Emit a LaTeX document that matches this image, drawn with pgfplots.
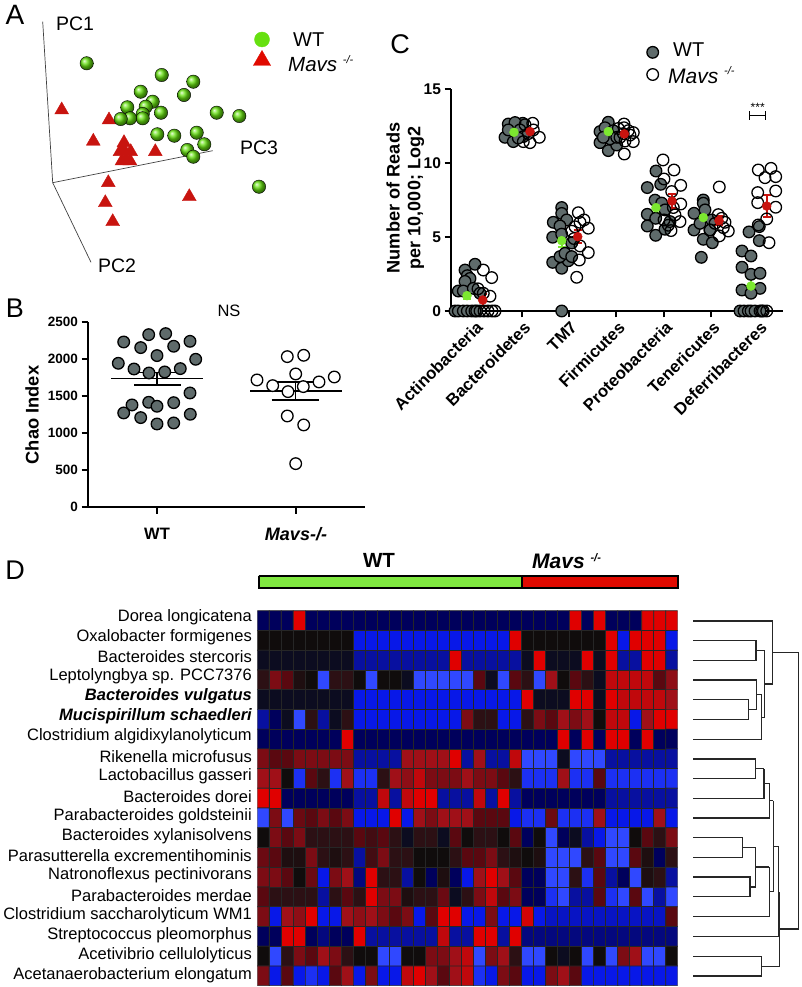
\documentclass[border=0pt]{standalone}
\usepackage{fontspec}
\setmainfont{Liberation Sans}
\usepackage{pgfplots}
\pgfplotsset{compat=1.18}
\definecolor{gr}{HTML}{5F6B6B}
\definecolor{grn}{HTML}{7CE830}
\definecolor{rd}{HTML}{C8140F}
\definecolor{barg}{HTML}{80E840}
\definecolor{barr}{HTML}{E00A00}
\definecolor{ballg}{HTML}{66E010}
\newcommand{\fs}[1]{\fontsize{#1}{#1}\selectfont}
\pgfplotsset{
  base/.style={scale only axis, clip=false},
  chart/.style={base, axis lines=left, axis line style={-, line width=2.4pt, black},
    tick align=outside, major tick length=6.5pt, tick style={line width=2pt, black},
    /pgf/number format/assume math mode=true, /pgf/number format/1000 sep={}},
  wtc/.style={only marks, mark=*, mark size=5.8pt, mark options={fill=gr, draw=black, line width=1.3pt}},
  koc/.style={only marks, mark=*, mark size=5.8pt, mark options={fill=white, draw=black, line width=1.3pt}},
  koo/.style={only marks, mark=o, mark size=5.8pt, mark options={draw=black, line width=1.3pt}},
  dn/.style={color=black!85, line width=1.3pt, line join=miter},
  ml/.style={black, line width=1.3pt},
}
\begin{document}
\begin{tikzpicture}
\path[use as bounding box] (0,0) rectangle (802pt,987pt);
% master axis in image coordinates
\begin{axis}[base, at={(0,0)}, anchor=south west, width=802pt, height=987pt, xmin=0, xmax=802, ymin=0, ymax=987, y dir=reverse, hide axis,
  nodes={inner sep=0pt}]
\addplot[black!75, line width=.7pt] coordinates {(42.7,21.7)(52.7,182.7)(212.7,150.7)};
\addplot[black!75, line width=.7pt] coordinates {(52.7,182.7)(91,262.3)};
\addplot[only marks, mark=triangle*, mark size=8pt, mark options={fill=rd, draw=rd}] coordinates {
(61.7,110)(109,120)(93.3,141.3)(124,142.7)(120,151.7)(130.7,151.7)(126,160)(155.3,151.7)(108.3,182.7)(105.3,202.7)(112.7,221.7)(189.3,196.7)(124,150)(122,161)(130,161)};
\addplot[only marks, mark=ball, mark size=6.7pt, mark options={ball color=ballg}] coordinates {
(86.7,63.3)(161.7,75)(193.3,81.7)(184,95)(140.7,91.7)(152.7,101.7)(145.7,106.7)(127.3,107.3)(161,112.7)(142.7,114)(142.7,118.3)(130,118.3)(120.7,119)(216.7,112.7)(239.3,116)(157.3,134.3)(174.3,135.7)(196.7,132.7)(204.3,144.3)(187.3,150)(193.3,156.7)(259,186.7)};
\addplot[only marks, mark=*, mark size=7.5pt, mark options={fill=ballg, draw=ballg}] coordinates {(262,39.5)};
\addplot[only marks, mark=triangle*, mark size=10pt, mark options={fill=barr, draw=barr}] coordinates {(262,60.5)};
% bar over the heatmap
\addplot[fill=barg, draw=black, line width=2pt] coordinates {(258.5,575.7)(521.5,575.7)(521.5,588)(258.5,588)(258.5,575.7)};
\addplot[fill=barr, draw=black, line width=2pt] coordinates {(521.5,575.7)(677.5,575.7)(677.5,588)(521.5,588)(521.5,575.7)};
% dendrogram
\addplot[dn] coordinates {(693,640.7)(756,640.7)(756,660.3)(693,660.3)};
\addplot[dn] coordinates {(756,650.7)(764.7,650.7)};
\addplot[dn] coordinates {(693,699.7)(748.3,699.7)(748.3,719.3)(693,719.3)};
\addplot[dn] coordinates {(748.3,709.3)(756.7,709.3)};
\addplot[dn] coordinates {(693,680)(756.7,680)(756.7,709.3)};
\addplot[dn] coordinates {(756.7,694.7)(761.7,694.7)};
\addplot[dn] coordinates {(693,739.3)(761.7,739.3)(761.7,694.7)};
\addplot[dn] coordinates {(761.7,717.3)(764.7,717.3)};
\addplot[dn] coordinates {(764.7,650.7)(764.7,717.3)};
\addplot[dn] coordinates {(764.7,684)(772.7,684)};
\addplot[dn] coordinates {(693,621)(772.7,621)(772.7,684)};
\addplot[dn] coordinates {(772.7,652.3)(798.7,652.3)(798.7,929)(779.5,929)};
\addplot[dn] coordinates {(693,759)(755.3,759)(755.3,778.7)(693,778.7)};
\addplot[dn] coordinates {(755.3,768.7)(764,768.7)};
\addplot[dn] coordinates {(693,798.3)(764,798.3)(764,768.7)};
\addplot[dn] coordinates {(764,783.3)(769.3,783.3)};
\addplot[dn] coordinates {(693,818)(769.3,818)(769.3,783.3)};
\addplot[dn] coordinates {(769.3,800.7)(773.3,800.7)};
\addplot[dn] coordinates {(693,837.7)(742.7,837.7)(742.7,857.3)(693,857.3)};
\addplot[dn] coordinates {(742.7,847.7)(755.7,847.7)};
\addplot[dn] coordinates {(693,877)(750,877)(750,896.7)(693,896.7)};
\addplot[dn] coordinates {(750,887)(755.7,887)};
\addplot[dn] coordinates {(755.7,847.7)(755.7,887)};
\addplot[dn] coordinates {(755.7,867)(769.3,867)};
\addplot[dn] coordinates {(693,916.7)(769.3,916.7)(769.3,867)};
\addplot[dn] coordinates {(769.3,891.7)(773.3,891.7)};
\addplot[dn] coordinates {(773.3,800.7)(773.3,891.7)};
\addplot[dn] coordinates {(773.3,846.7)(778.7,846.7)};
\addplot[dn] coordinates {(693,936.7)(778.7,936.7)(778.7,846.7)};
\addplot[dn] coordinates {(693,956.3)(761.7,956.3)(761.7,976)(693,976)};
\addplot[dn] coordinates {(761.7,966.3)(779.7,966.3)(779.7,891.7)};
% text
\node[anchor=center] at (15,15) {\fs{28}A};
\node[anchor=center] at (15,308) {\fs{27}B};
\node[anchor=center] at (400,44) {\fs{27}C};
\node[anchor=center] at (15,570) {\fs{27}D};
\node at (75,24) {\fs{19.5}PC1};
\node at (259,148) {\fs{19.5}PC3};
\node at (117,266) {\fs{19.5}PC2};
\node[anchor=west] at (293,40) {\fs{20}WT};
\node[anchor=west] at (288,64) {\fs{20.5}\textit{Mavs} \raisebox{.4em}{\fs{11}\textit{-/-}}};
\node at (229,311) {\fs{16.5}NS};
\node[rotate=90] at (32,415) {\fs{18.3}\bfseries Chao Index};
\node at (157,534) {\fs{16.5}\bfseries WT};
\node at (296,534) {\fs{18}\bfseries\itshape Mavs-/-};
\node[rotate=90] at (393,198) {\fs{18.2}\bfseries Number of Reads};
\node[rotate=90] at (416,198) {\fs{18}\bfseries per 10,000; Log2};
\node[anchor=west] at (673,50) {\fs{20}WT};
\node[anchor=west] at (668,75) {\fs{21}\textit{Mavs} \raisebox{.4em}{\fs{11}\textit{-/-}}};
\node at (757.7,107) {\fs{12}***};
\node at (379,560) {\fs{20.5}\bfseries WT};
\node[anchor=west] at (532,561) {\fs{21}\bfseries\itshape Mavs \raisebox{.35em}{\fs{11}-/-}};
\node[anchor=east] at (252,617) {\fs{16.5}Dorea longicatena};
\node[anchor=east] at (252,636.9) {\fs{16.5}Oxalobacter formigenes};
\node[anchor=east] at (252,656.8) {\fs{16.5}Bacteroides stercoris};
\node[anchor=east] at (252,676.7) {\fs{16.5}Leptolyngbya sp. PCC7376};
\node[anchor=east] at (252,696.6) {\fs{16.5}\bfseries\itshape Bacteroides vulgatus};
\node[anchor=east] at (252,716.5) {\fs{16.5}\bfseries\itshape Mucispirillum schaedleri};
\node[anchor=east] at (252,736.4) {\fs{16.5}Clostridium algidixylanolyticum};
\node[anchor=east] at (252,756.3) {\fs{16.5}Rikenella microfusus};
\node[anchor=east] at (252,776.2) {\fs{16.5}Lactobacillus gasseri};
\node[anchor=east] at (252,796.1) {\fs{16.5}Bacteroides dorei};
\node[anchor=east] at (252,816) {\fs{16.5}Parabacteroides goldsteinii};
\node[anchor=east] at (252,835.9) {\fs{16.5}Bacteroides xylanisolvens};
\node[anchor=east] at (252,855.8) {\fs{16.5}Parasutterella excrementihominis};
\node[anchor=east] at (252,875.7) {\fs{16.5}Natronoflexus pectinivorans};
\node[anchor=east] at (252,895.6) {\fs{16.5}Parabacteroides merdae};
\node[anchor=east] at (252,915.5) {\fs{16.5}Clostridium saccharolyticum WM1};
\node[anchor=east] at (252,935.4) {\fs{16.5}Streptococcus pleomorphus};
\node[anchor=east] at (252,955.3) {\fs{16.5}Acetivibrio cellulolyticus};
\node[anchor=east] at (252,975.2) {\fs{16.5}Acetanaerobacterium elongatum};
\end{axis}
% panel B
\begin{axis}[chart, at={(88pt,479.7pt)}, anchor=south west, width=277pt, height=185pt,
  xmin=88, xmax=365, ymin=0, ymax=2500, xtick={157,295.7}, xticklabels={}, ytick={0,500,1000,1500,2000,2500},
  tick label style={font=\fs{13.5}\bfseries}, ylabel={}]
\addplot[wtc] coordinates {(123.7,2234)(148.7,2333)(165.7,2347)(190,2243)(140.7,2158)(173.7,2176)(157,2050)(118.3,1946)(195.7,2000)(134,1869)(180.3,1874)(149,1815)(164.7,1829)(190,1545)(132,1383)(148.7,1419)(157,1365)(173.7,1414)(123.7,1275)(140.7,1212)(190.3,1257)(157,1126)(173.7,1140)};
\addplot[koc] coordinates {(287.3,2036)(303.7,2054)(295.7,1802)(257,1721)(334.3,1761)(272.7,1644)(319,1694)(303.3,1631)(288,1563)(287.3,1234)(303.7,1113)(295.7,590)};
\addplot[ml] coordinates {(111,1739)(203.3,1739)};
\addplot[ml] coordinates {(134,1824)(181,1824)};
\addplot[ml] coordinates {(134,1653)(181,1653)};
\addplot[ml] coordinates {(157,1653)(157,1824)};
\addplot[ml] coordinates {(250,1572)(342.3,1572)};
\addplot[ml] coordinates {(271.7,1694)(319.3,1694)};
\addplot[ml] coordinates {(271.7,1450)(319.3,1450)};
\addplot[ml] coordinates {(295.7,1450)(295.7,1694)};
\end{axis}
% panel C
\begin{axis}[chart, at={(451pt,676pt)}, anchor=south west, width=331.7pt, height=221.7pt,
  xmin=451, xmax=782.7, ymin=0, ymax=15, xtick={474,521.7,568.8,616.2,663.6,711,758.3},
  xticklabels={Actinobacteria,Bacteroidetes,TM7,Firmicutes,Proteobacteria,Tenericutes,Deferribacteres},
  ytick={0,5,10,15},
  yticklabel style={font=\fs{15.5}\bfseries},
  xticklabel style={font=\fs{16.8}\bfseries, rotate=45, anchor=north east, inner sep=1pt, yshift=-1.5pt}]
\addplot[wtc] coordinates {(475,3.16)(465,2.77)(467.3,2.39)(470,2.2)(465,2)(458.3,1.35)(463.3,1.35)(473.3,1.53)(480,1.2)(455,0)(458.3,0)(463.3,0)(467.3,0)(471.7,0)(476.7,0)
(508.3,12.65)(522.7,12.7)(515,12.75)(505,11.75)(513.3,11.46)(508.3,12.25)(520,12.25)(523.3,11.8)(518.3,11.7)
(561.7,7)(561.7,6.6)(553.3,6)(566.7,6.16)(560,5.75)(552.7,4.99)(561.7,5.2)(571.7,4.6)(552.7,3.29)(561.7,2.89)(568.3,3.4)(560,3.68)(565,3.9)(571.7,3.68)(561.7,0)
(608.3,12.77)(600,12.14)(600,11.39)(608.3,10.85)(616.7,11.23)(605,12.4)(613.3,12.2)(610,11.65)(603.3,11.75)(616.7,11.75)
(656,9.47)(660.7,8.57)(647.3,8.35)(655,7.5)(647.3,6.54)(647.3,5.75)(655.7,5.12)(665,5.53)(655.7,6.27)(661.7,7.3)(665,6.84)(670,6.05)
(703.3,7.51)(703.3,7.29)(694,6.61)(694,5.48)(703.3,4.85)(712.3,4.62)(701.3,3.63)(700,5.93)(705,6.84)(711.7,6.16)(710,5.48)
(742,4.06)(751,3.72)(742,2.96)(751,2.48)(760,2.55)(742,1.42)(760,1.53)(751,1.2)(749,5.35)(759.3,5.71)(759.3,4.76)(740,0)(744,0)(748.3,0)(751,0)(755,0)(760,0)};
\addplot[koo] coordinates {(483.3,2.77)(491.7,2.26)(483.3,1.2)(478,1.5)(490,1)(475,0)(480,0)(484,0)(488,0)(492,0)(495,0)
(532.7,12.7)(539.3,11.75)(530,11.39)(523.3,11.46)(533.3,12.25)(528.3,12)(525,12.6)
(578.3,6.65)(584,6.16)(580,6)(588.3,5.6)(575,5.7)(571.7,5.4)(588.3,3.95)(579.3,3.45)(576.7,2.28)(574,4.9)(580,4.4)
(624,12.65)(633.3,12.07)(633.3,11.46)(624.3,10.62)(618.3,12.35)(628.3,12.2)(623.3,12)(620,11.75)(625,11.5)(630,11.9)(624,12.4)
(663,10.22)(674,9.54)(664,8.93)(680.7,8.5)(671.7,8.08)(680.7,7.24)(675,6.5)(680,6.05)(671,5.44)(664,6.16)(673.3,7)(668.3,5.8)
(719.3,8.39)(721.7,6.27)(728.3,5.41)(719.3,5.08)(710,5.48)(715,5.93)(723.3,5.64)(718.3,6.52)(725,6)
(758.3,9.54)(771,9.65)(765,9.02)(775.7,9.09)(775.7,8.12)(757.7,8.01)(757.7,7.33)(775.7,7.02)(766.7,6.23)(758.3,5.82)(769,4.62)(766.7,0)(761.7,0)(763.3,0)};
\addplot[only marks, mark=*, mark size=4.5pt, mark options={fill=grn, draw=grn},
  error bars/.cd, y dir=both, y explicit, error bar style={grn, line width=2.2pt}, error mark options={grn, rotate=90, mark size=4pt, line width=2.2pt}] coordinates {
(467,1.04)+-(0,.25) (514,12.09)+-(0,.12) (561.7,4.76)+-(0,.45) (608.3,12.14)+-(0,.12) (656,6.99)+-(0,.35) (703.3,6.32)+-(0,.3) (751,1.69)+-(0,.5)};
\addplot[only marks, mark=*, mark size=4.5pt, mark options={fill=rd, draw=rd},
  error bars/.cd, y dir=both, y explicit, error bar style={rd, line width=2.2pt}, error mark options={rd, rotate=90, mark size=4pt, line width=2.2pt}] coordinates {
(482.7,.74)+-(0,.4) (530,12.14)+-(0,.12) (577.7,5.03)+-(0,.45) (624.3,11.98)+-(0,.12) (672,7.44)+-(0,.5) (719,6.11)+-(0,.3) (766.7,7.1)+-(0,.75)};
% legend and significance bracket
\addplot[wtc] coordinates {(652.7,17.5)};
\addplot[koc] coordinates {(652.7,16)};
\addplot[black, line width=1.2pt] coordinates {(749.3,13.5)(749.3,12.9)};
\addplot[black, line width=1.2pt] coordinates {(749.3,13.2)(765.7,13.2)};
\addplot[black, line width=1.2pt] coordinates {(765.7,13.5)(765.7,12.9)};
\end{axis}
% panel D heatmap
\begin{axis}[scale only axis, at={(257.3pt,1.3pt)}, anchor=south west, width=420.4pt, height=375pt, y dir=reverse,
  xmin=-.5, xmax=34.5, ymin=-.5, ymax=18.5, hide axis, point meta min=-5, point meta max=5,
  colormap={hm}{rgb255=(48,72,255) rgb255=(8,24,232) rgb255=(8,16,160) rgb255=(0,0,92) rgb255=(12,12,32) rgb255=(16,12,12) rgb255=(44,16,20) rgb255=(90,8,16) rgb255=(124,12,20) rgb255=(160,16,24) rgb255=(224,0,0)}]
\addplot[matrix plot, mesh/cols=35, point meta=explicit, draw=black!85, line width=.7pt]
  table[row sep=\\, header=false, x expr={\coordindex-35*floor((\coordindex+.5)/35)}, y expr={floor((\coordindex+.5)/35)}, meta index=0] {-2\\-2\\-2\\5\\-2\\-2\\-2\\-2\\-2\\-2\\-2\\-2\\-2\\-2\\-2\\-2\\-2\\-2\\-2\\-2\\-2\\-2\\-2\\-2\\-2\\-2\\5\\-2\\5\\-2\\-2\\-2\\5\\5\\5\\0\\0\\0\\0\\0\\0\\0\\0\\-4\\-4\\-4\\-4\\-4\\-4\\-4\\-4\\-4\\-4\\-4\\-4\\-4\\5\\0\\0\\0\\0\\0\\0\\0\\5\\-4\\5\\5\\5\\-4\\-1\\-1\\-1\\-1\\-1\\-1\\-1\\-1\\-3\\-3\\-3\\-3\\-3\\-3\\-3\\-3\\5\\-3\\-3\\-3\\-3\\-3\\-1\\5\\-1\\-1\\-1\\5\\-1\\5\\-3\\-3\\5\\5\\-3\\1\\3\\2\\.5\\0\\-5\\1\\1\\0\\-5\\0\\0\\-1\\-5\\-5\\-5\\-5\\-5\\2\\-1\\-5\\2\\1\\-5\\4\\0\\2\\1\\-1\\4.5\\4.5\\4.5\\4.5\\2\\3.5\\-1\\-1\\-1\\-1\\-1\\-1\\-1\\-1\\-4\\-4\\-4\\-4\\-4\\-4\\-4\\-4\\-4\\-4\\-4\\-4\\-4\\-4\\5\\-1\\-1\\-1\\5\\5\\-1\\5\\4.5\\4.5\\4.5\\4.5\\4\\-3\\-2\\-1\\-5\\1\\-3\\-1\\1\\-4\\-4\\-4\\-4\\-4\\-4\\-4\\-4\\-4\\3\\1\\1\\-4\\-4\\1\\3\\2\\4\\3\\4\\0\\4.5\\4.5\\-4\\4\\5\\5\\-2\\-2\\-2\\-2\\-2\\-2\\-2\\5\\-2\\-2\\-2\\-2\\-2\\-2\\-2\\-2\\-2\\-2\\-2\\-2\\-2\\-2\\-2\\-2\\-2\\5\\-2\\5\\-2\\5\\5\\-2\\5\\-2\\-2\\3\\2\\2\\3\\3\\3\\3\\3\\-3\\-3\\-3\\-3\\4\\4\\4\\4\\5\\-3\\4\\-3\\-3\\4.5\\-5\\-5\\-5\\-1\\-5\\-5\\-5\\-3\\-3\\-3\\-3\\-3\\-3\\4\\4\\0\\-4.5\\2\\1\\-4.5\\4\\-4.5\\-4.5\\1\\4\\3.5\\4.5\\3\\3\\3\\4\\3\\3\\2\\1\\-4.5\\-4.5\\-4.5\\4\\-4.5\\-4.5\\2\\-4.5\\-4.5\\-4.5\\-4.5\\-4.5\\-4.5\\5\\5\\-2\\-2\\-2\\-2\\-2\\-2\\-3\\-3\\4.5\\-3\\4.5\\5\\5\\-3\\-3\\-3\\4.5\\-3\\5\\-3\\-2\\-2\\-2\\-2\\-2\\-2\\-2\\-3\\-3\\-3\\-3\\-3\\-3\\-5\\3\\-5\\2.5\\2\\3\\2\\3\\-4\\-4\\-4\\5\\-4\\4\\3\\4\\4\\4\\2\\2\\2\\-4\\-4.5\\-4.5\\2.5\\-4.5\\-4.5\\-4.5\\4\\-4\\-4\\-4\\-4\\4\\-4\\0\\3\\2\\3\\1\\1\\1\\1\\2\\1.5\\2\\1\\-1\\1\\1\\-1\\2\\0\\1\\1\\0\\2\\-2\\0\\-5\\-2\\-1\\-3\\-4\\-5\\-5\\0\\2\\1\\3\\2.5\\2\\.5\\.5\\3\\1\\.5\\1\\-3\\1.5\\3\\1\\1\\0\\0\\0\\1\\2\\2\\3\\1\\.5\\0\\.5\\-5\\-5\\-5\\1\\2\\-5\\-5\\2\\.5\\-2\\1\\3\\3\\2\\0\\2.5\\-4\\3\\4\\-2.5\\5\\1\\1\\-3\\0\\-2\\.5\\-2\\-4\\4\\5\\4\\2\\-2\\-2\\-5\\-5\\1\\-4.5\\2\\-3\\-2\\-5\\.5\\1\\-3\\2\\1\\1\\1\\1\\-3\\1\\2\\1\\5\\3\\3\\.5\\1\\1\\2.5\\-1\\1\\3\\4.5\\2\\3\\-2\\-2\\-4.5\\-5\\-3\\-3\\2\\-4.5\\-5\\2\\-5\\-3\\-5\\3\\-4\\4\\3.5\\5\\-4\\-4\\4\\3.5\\4\\3\\2\\3\\-4\\2\\5\\5\\-4\\-4\\3\\-4\\-4\\4.8\\-4\\-3.5\\-3.5\\-3.5\\-3.5\\-3.5\\-3.5\\-3.5\\-3.5\\-3.5\\-3.5\\2\\-2\\-2\\5\\5\\-2\\-2.5\\-2\\-2\\5\\-3\\-3\\-3\\-3\\-3\\-3\\4.5\\-3\\-3\\5\\5\\-3\\5\\-2.5\\-2.5\\-2.5\\-2.5\\-2.5\\-2.5\\-2.5\\-2.5\\-2.5\\-2.5\\-2.5\\-2.5\\-2.5\\0\\-5\\1\\3\\2\\4\\3\\1\\0\\0\\-5\\-5\\0\\0\\3\\3\\4\\4.5\\-5\\3\\4\\1\\-5\\-5\\0\\-1\\0\\-5\\0\\-5\\3\\4\\-5\\-5\\0\\3\\-4\\2\\-4\\-4.5\\-4\\2\\4\\-4\\3\\-4\\-4\\4.5\\5\\4\\2\\4\\4.5\\-4.5\\-4\\3\\2\\-4\\-4\\3\\4\\2\\-4\\-4\\-4\\-4\\-4\\-4\\-4\\-4\\};
\end{axis}
\end{tikzpicture}
\end{document}
